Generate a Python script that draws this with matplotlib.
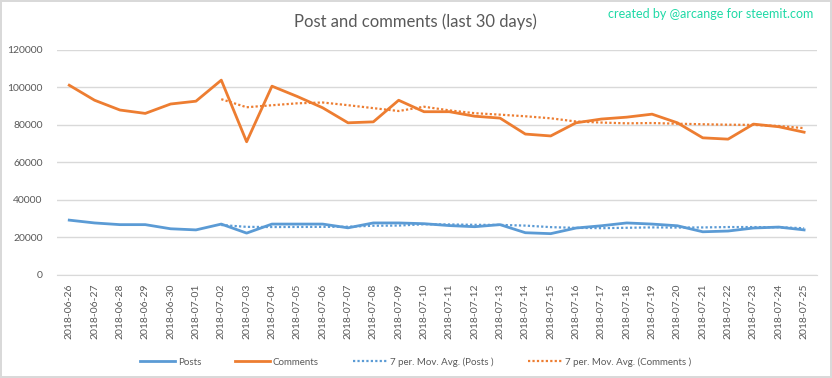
import numpy as np
import pandas as pd
import matplotlib
matplotlib.use("Agg")
import matplotlib.pyplot as plt

# daily data
dates = ['2018-06-26', '2018-06-27', '2018-06-28', '2018-06-29', '2018-06-30',
         '2018-07-01', '2018-07-02', '2018-07-03', '2018-07-04', '2018-07-05',
         '2018-07-06', '2018-07-07', '2018-07-08', '2018-07-09', '2018-07-10',
         '2018-07-11', '2018-07-12', '2018-07-13', '2018-07-14', '2018-07-15',
         '2018-07-16', '2018-07-17', '2018-07-18', '2018-07-19', '2018-07-20',
         '2018-07-21', '2018-07-22', '2018-07-23', '2018-07-24', '2018-07-25']
posts = [29200, 27700, 26800, 26800, 24600, 24000, 27100, 22300, 27100, 27100,
         27100, 25100, 27700, 27700, 27300, 26300, 25700, 26800, 22500, 22000,
         25000, 26200, 27700, 27100, 26200, 23000, 23400, 25000, 25500, 24000]
comments = [101000, 93000, 87800, 86000, 91000, 92500, 103700, 70900, 100500, 95000,
            89000, 81000, 81500, 93000, 86900, 86900, 84500, 83500, 75000, 74000,
            81000, 83000, 84000, 85600, 81000, 73000, 72300, 80300, 78900, 76000]

BLUE = '#5B9BD5'
ORANGE = '#ED7D31'
GREY = '#595959'
GRID = '#D9D9D9'

plt.rcParams['font.family'] = ['Lato', 'DejaVu Sans']

x = np.arange(len(dates))
# Excel trendline: 7 period moving average
posts_ma = pd.Series(posts).rolling(7).mean()
comments_ma = pd.Series(comments).rolling(7).mean()

fig = plt.figure(figsize=(8.32, 3.78), dpi=100)
fig.patch.set_edgecolor(GRID)
fig.patch.set_linewidth(1.5)
ax = fig.add_axes([0.068, 0.2725, 0.9137, 0.5965])

ax.plot(x, posts, color=BLUE, lw=2, label='Posts')
ax.plot(x, comments, color=ORANGE, lw=2, label='Comments')
ax.plot(x, posts_ma, color=BLUE, lw=1.6, ls=(0, (1, 1)), label='7 per. Mov. Avg. (Posts )')
ax.plot(x, comments_ma, color=ORANGE, lw=1.6, ls=(0, (1, 1)), label='7 per. Mov. Avg. (Comments )')

ax.set_xlim(-0.5, len(dates) - 0.5)
ax.set_ylim(0, 120000)
ax.set_yticks(np.arange(0, 120001, 20000))
ax.set_xticks(x)
ax.set_xticklabels(dates, rotation=90)
ax.tick_params(axis='both', length=0, labelsize=7.5, colors=GREY)
ax.tick_params(axis='x', pad=6)
ax.tick_params(axis='y', pad=10)
ax.grid(axis='y', color=GRID, lw=1)
ax.set_axisbelow(True)
for s in ['top', 'right', 'left']:
    ax.spines[s].set_visible(False)
ax.spines['bottom'].set_color(GRID)

fig.text(0.499, 0.942, 'Post and comments (last 30 days)', ha='center', va='center',
         fontsize=12, color=GREY)
fig.text(0.978, 0.962, 'created by @arcange for steemit.com', ha='right', va='center',
         fontsize=9, color='#1FD9A6')

fig.legend(loc='center', bbox_to_anchor=(0.5, 0.042), ncol=4, frameon=False,
           fontsize=7, labelcolor=GREY, handlelength=3.6, handletextpad=0.25,
           columnspacing=3.5)

fig.savefig('out.png', dpi=100)
